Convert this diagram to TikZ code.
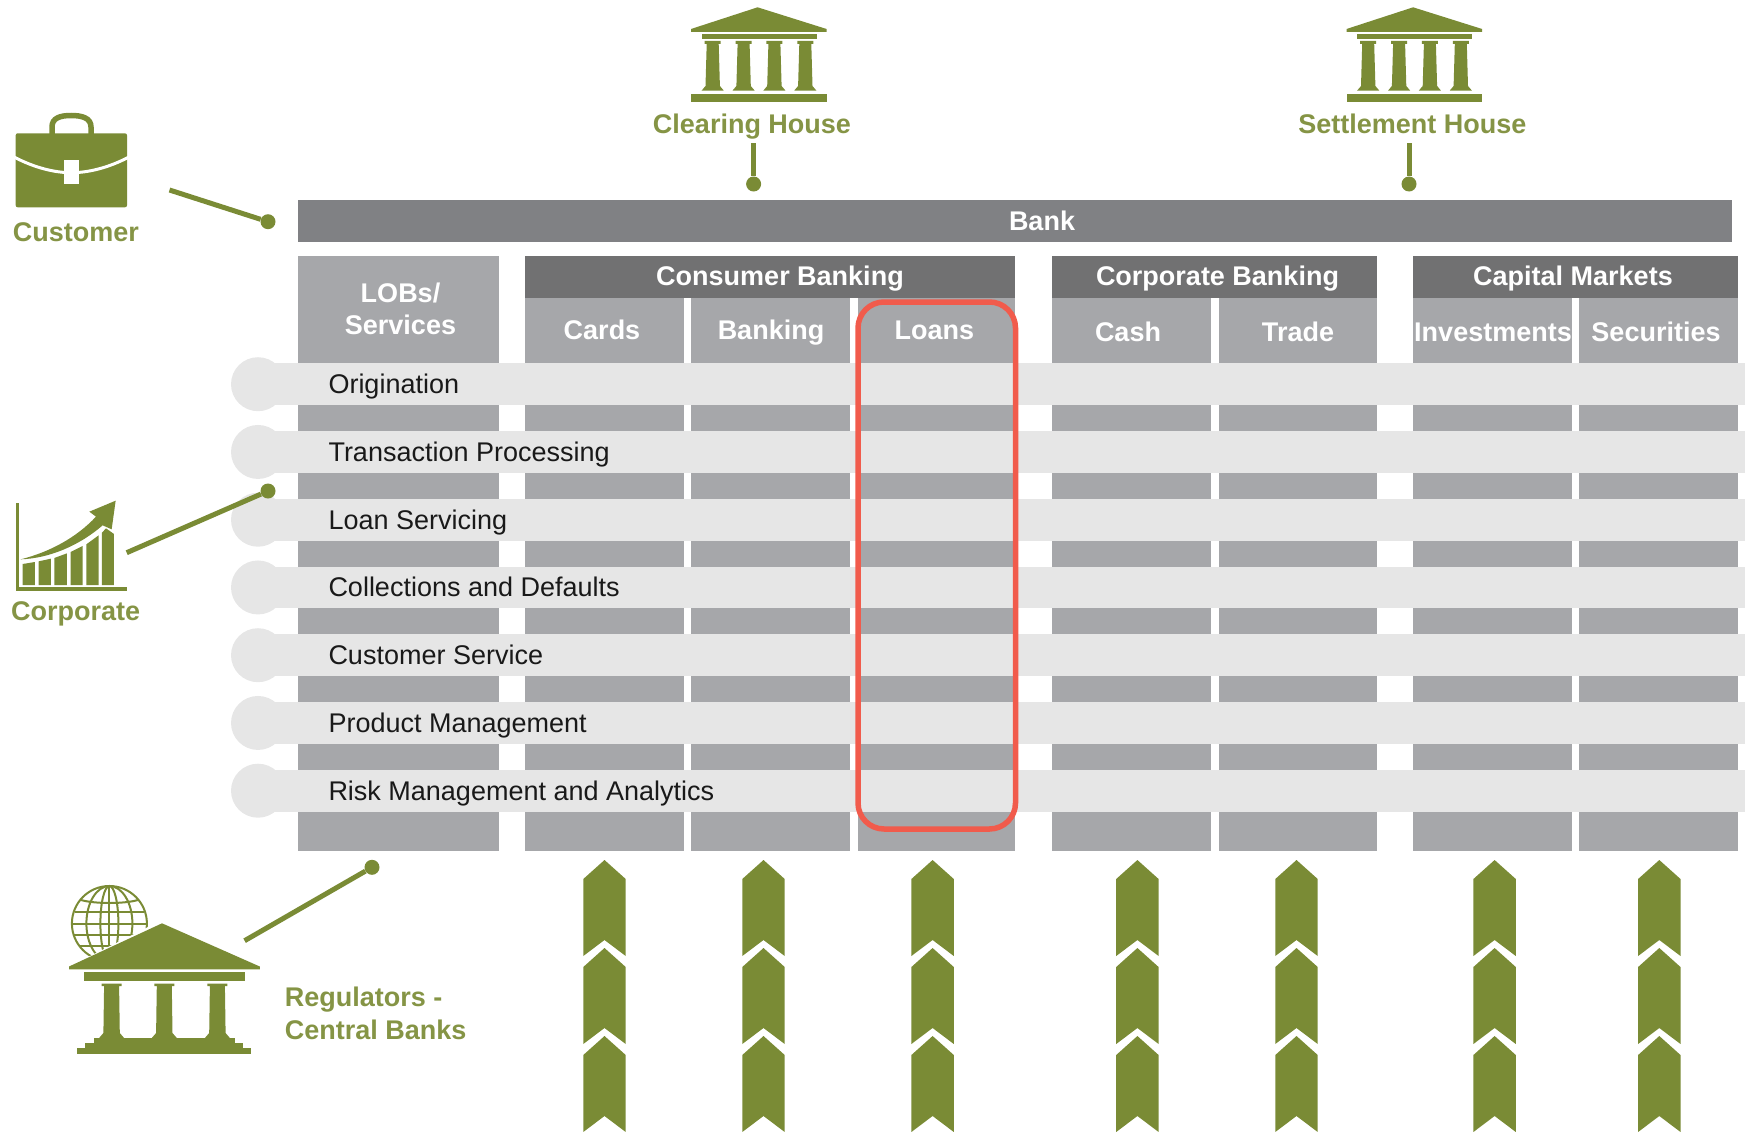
\documentclass[tikz,border=0pt]{standalone}
\usepackage{fontspec}
\setmainfont{Liberation Sans}
\definecolor{grn}{HTML}{7A8B35}
\definecolor{grnlite}{HTML}{C3CB9E}
\definecolor{barg}{HTML}{808184}
\definecolor{headg}{HTML}{717172}
\definecolor{cellg}{HTML}{A6A7AA}
\definecolor{bandg}{HTML}{E6E6E6}
\definecolor{redl}{HTML}{F15B4C}
\tikzset{
  lab/.style={anchor=base,inner sep=0pt,font=\fontsize{27}{27}\selectfont\bfseries,text=white},
  glab/.style={lab,text=grn!92!white},
  rowlab/.style={anchor=base west,inner sep=0pt,font=\fontsize{27}{27}\selectfont,text=black!90},
  dotn/.style={circle,fill=grn,inner sep=0pt,minimum size=15pt},
  conn/.style={draw=grn,line width=5pt},
}
\begin{document}
\begin{tikzpicture}[x=1pt,y=-1pt]
\useasboundingbox (0,0) rectangle (1745,1132);
% bank bar
\fill[barg] (298,200) rectangle (1731.5,242);
\node[lab] (bank) at (1042,230) {Bank};
% columns
\fill[cellg] (298,256) rectangle (498.5,850.5);
\foreach \a/\b in {525/683.5,691/850,858/1015,1052/1210.5,1218.5/1377,1413/1571.5,1579/1738}
  \fill[cellg] (\a,297) rectangle (\b,850.5);
\foreach \a/\b in {525/1015,1052/1377,1413/1738}
  \fill[headg] (\a,256) rectangle (\b,297.5);
% bands
\foreach \i in {0,...,6}{
  \fill[bandg] (258,363.3+67.75*\i) rectangle (1745,405+67.75*\i);
  \fill[bandg] (258,384.2+67.75*\i) circle[radius=27];
}
% header labels
\node[lab] (lobA) at (400.5,302) {LOBs/};
\node[lab] (lobB) at (400.5,334) {Services};
\node[lab] (cons) at (780,285.5) {Consumer Banking};
\node[lab] (corp) at (1217.5,285.5) {Corporate Banking};
\node[lab] (capm) at (1573,285.5) {Capital Markets};
\node[lab] (cards) at (602,339) {Cards};
\node[lab] (bankg) at (771,339) {Banking};
\node[lab] (loans) at (934.3,339) {Loans};
\node[lab] (cash) at (1128,341) {Cash};
\node[lab] (trade) at (1298,341) {Trade};
\node[lab] (invs) at (1493,341) {Investments};
\node[lab] (secs) at (1656,341) {Securities};
% rows
\node[rowlab] (r0) at (328.3,393.5) {Origination};
\node[rowlab] (r1) at (328.3,461.2) {Transaction Processing};
\node[rowlab] (r2) at (328.3,529) {Loan Servicing};
\node[rowlab] (r3) at (328.3,596.7) {Collections and Defaults};
\node[rowlab] (r4) at (328.3,664.5) {Customer Service};
\node[rowlab] (r5) at (328.3,732.2) {Product Management};
\node[rowlab] (r6) at (328.3,800) {Risk Management and Analytics};
% highlight
\draw[redl,line width=5.5pt,rounded corners=26pt] (858,302) rectangle (1015.5,829);
% chevrons
\foreach \cx in {604.5,763.5,932.6,1137.4,1296.5,1494.6,1659.3}
  \foreach \k in {0,1,2}
    \fill[grn,shift={(\cx,88*\k)}] (0,860) -- (21.2,879) -- (21.2,956) -- (0,940) -- (-21.2,956) -- (-21.2,879) -- cycle;
% temples
\foreach \dx in {0,655.5}{
\begin{scope}[shift={(\dx,0)}]
  \fill[grn] (757.6,7.3) -- (826.6,29) -- (826.6,32) -- (691,32) -- (691,29) -- cycle;
  \fill[grn] (701.5,34) rectangle (816.5,39.5);
  \foreach \c in {712.7,743.6,774.4,805.3}{
    \fill[grn] (\c-8,41) -- (\c+8,41) -- (\c+8,44) -- (\c+6,44) -- (\c+7.2,86) -- (\c+11,90.5) -- (\c-11,90.5) -- (\c-7.2,86) -- (\c-6,44) -- (\c-8,44) -- cycle;
  }
  \fill[grn] (691,94.3) rectangle (826.6,101.7);
\end{scope}}
\node[glab] (clear) at (752,133.5) {Clearing House};
\node[glab] (settle) at (1412.3,133.5) {Settlement House};
\coordinate (clearS) at (753.6,143);
\coordinate (settleS) at (1409,143);
\node[dotn] (clearD) at (753.6,184) {};
\node[dotn] (settleD) at (1409,184) {};
\draw[conn] (clearS) -- (clearD);
\draw[conn] (settleS) -- (settleD);
% briefcase
\draw[grn,line width=5.5pt] (52,136) -- (52,127) .. controls (52,118) and (60,115.5) .. (71.3,115.5) .. controls (82,115.5) and (91,118) .. (91,127) -- (91,136);
\fill[grn,rounded corners=2pt] (15.7,133.3) rectangle (127,207.3);
\draw[white,line width=3pt] (14,157) .. controls (35,168) and (55,172.7) .. (71.3,172.7) .. controls (88,172.7) and (108,168) .. (129,157);
\fill[white] (64,160) rectangle (79,184);
\node[glab] (cust) at (75.8,241) {Customer};
\coordinate (custS) at (169.5,190);
\node[dotn] (custD) at (268,221.7) {};
\draw[conn] (custS) -- (custD);
% chart
\begin{scope}[shift={(0,460)},scale=1/3]
  \fill[grn] (47,128) rectangle (57,393);
  \fill[grn] (47,382) rectangle (380,393);
  \fill[grn] (68,312) -- (105,306) -- (105,375) -- (68,375) -- cycle;
  \fill[grn] (116,304) -- (153,296) -- (153,375) -- (116,375) -- cycle;
  \fill[grn] (163,294) -- (201,280) -- (201,375) -- (163,375) -- cycle;
  \fill[grn] (212,276) -- (248,258) -- (248,375) -- (212,375) -- cycle;
  \fill[grn] (259,253) -- (296,226) -- (296,375) -- (259,375) -- cycle;
  \fill[grn] (306,218) -- (318,205) -- (342,222) -- (342,375) -- (306,375) -- cycle;
  \fill[grn] (62,298) .. controls (150,295) and (240,255) .. (308,196) -- (335,208) -- (347,122) -- (268,155) -- (288,170) .. controls (230,232) and (150,276) .. (62,298) -- cycle;
\end{scope}
\node[glab] (corpl) at (75.7,620.5) {Corporate};
\coordinate (corpS) at (126.7,552.7);
\node[dotn] (corpD) at (268,491) {};
\draw[conn] (corpS) -- (corpD);
% globe
\begin{scope}[grn,line width=2pt]
  \draw (109.4,923.5) circle[radius=37.5];
  \draw (109.4,923.5) ellipse[x radius=23,y radius=37.5];
  \draw (109.4,923.5) ellipse[x radius=9,y radius=37.5];
  \draw (109.4,886) -- (109.4,961);
  \draw (72,923.5) -- (146.8,923.5);
  \draw (81,900) .. controls (95,904) and (124,904) .. (138,900);
  \draw (74.5,912) -- (144.3,912);
  \draw (74,935) -- (144.8,935);
  \draw (79,946) -- (139.8,946);
\end{scope}
% regulator temple
\fill[white] (70,972) -- (70,966) -- (162,920) -- (262,966) -- (262,972) -- cycle;
\fill[grn] (162,923.3) -- (259.8,966.5) -- (259.8,969.3) -- (69,969.3) -- (69,966.5) -- cycle;
\fill[grn] (83.5,971.7) rectangle (245,981);
\foreach \c in {111.6,164.3,217.4}{
  \fill[grn] (\c-10,983.5) -- (\c+10,983.5) -- (\c+10,986) -- (\c+7.5,986) -- (\c+8.2,1033) -- (\c+12.5,1038) -- (\c-12.5,1038) -- (\c-8.2,1033) -- (\c-7.5,986) -- (\c-10,986) -- cycle;
}
\fill[grn] (93.7,1037.5) rectangle (235.3,1044);
\fill[grn] (84.8,1043) rectangle (243.3,1049);
\fill[grn] (76.8,1048) rectangle (250.9,1054);
\node[glab,anchor=base west] (reg1) at (284.7,1006.5) {Regulators -};
\node[glab,anchor=base west] (reg2) at (284.7,1039.5) {Central Banks};
\coordinate (regS) at (244.6,940.7);
\node[dotn] (regD) at (372,867.3) {};
\draw[conn] (regS) -- (regD);
\end{tikzpicture}
\end{document}
